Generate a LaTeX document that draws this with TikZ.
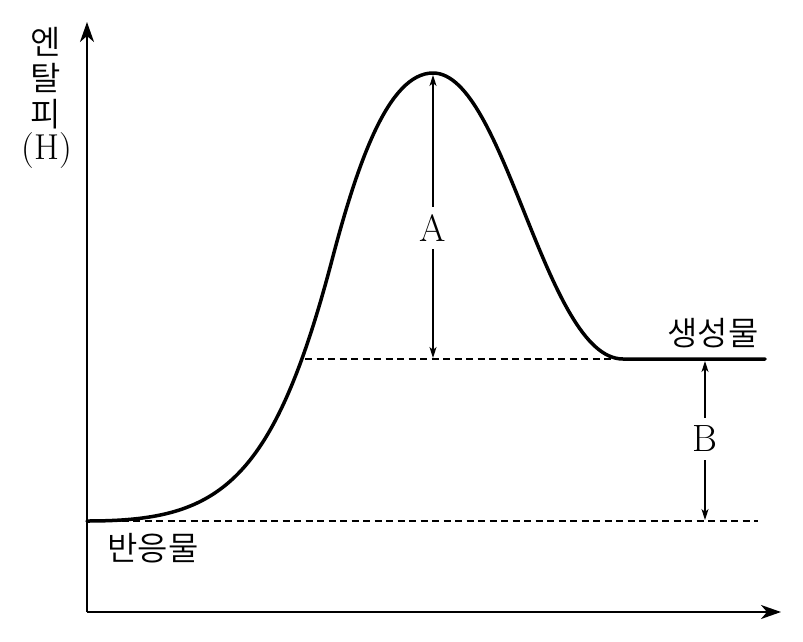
\documentclass[tikz,border=0pt]{standalone}
\usepackage{fontspec}
\newfontfamily\kr{Noto Sans CJK KR}[UprightFont=* DemiLight]
\usetikzlibrary{arrows.meta}
\tikzset{
  axis/.style={line width=2pt,-{Stealth[length=20pt,width=14pt,inset=6pt]}},
  curve/.style={line width=3.5pt,line cap=round,line join=round},
  guide/.style={line width=1.5pt,dash pattern=on 7pt off 4.5pt},
  measure/.style={line width=1.3pt,{Stealth[length=11pt,width=7pt,inset=3pt]}-{Stealth[length=11pt,width=7pt,inset=3pt]}},
  krlabel/.style={font=\kr\fontsize{33pt}{38pt}\selectfont,inner sep=0pt},
  latlabel/.style={font=\fontsize{38pt}{44pt}\selectfont,inner sep=0pt},
  gaplabel/.style={latlabel,fill=white,inner ysep=8pt,inner xsep=2pt}
}
\begin{document}
\begin{tikzpicture}[x=1pt,y=-1pt]
\useasboundingbox (0,0) rectangle (803,642);
% axes
\coordinate (O) at (87,612);
\coordinate (ytip) at (87,22);
\coordinate (xtip) at (781,612);
\draw[axis] (O) -- (ytip);
\draw[axis] (O) -- (xtip);
% levels
\coordinate (r0) at (87,521);
\coordinate (r1) at (758,521);
\coordinate (p0) at (305,359);
\coordinate (p1) at (623,359);
\coordinate (p2) at (765,359);
\coordinate (peak) at (433,73);
\draw[guide] (r0) -- (r1);
\draw[guide] (p0) -- (p1);
% curve
\draw[curve] (r0) .. controls (217,521) and (272,488) .. (332,260)
  .. controls (357,165) and (388,73) .. (peak)
  .. controls (505,73) and (545,359) .. (p1) -- (p2);
% measures
\coordinate (atop) at (433,75);
\coordinate (abot) at (433,358);
\coordinate (btop) at (705,361);
\coordinate (bbot) at (705,520);
\draw[measure] (atop) -- (abot);
\draw[measure] (btop) -- (bbot);
\node[gaplabel] (A) at (433,228) {A};
\node[gaplabel] (B) at (705,439) {B};
% labels
\node[krlabel] (y1) at (46,42) {엔};
\node[krlabel] (y2) at (46,78) {탈};
\node[krlabel] (y3) at (46,114) {피};
\node[latlabel,font=\fontsize{36pt}{40pt}\selectfont] (y4) at (47,151) {(H)};
\node[krlabel] (prod) at (713,333) {생성물};
\node[krlabel] (reac) at (153,548) {반응물};
\end{tikzpicture}
\end{document}
